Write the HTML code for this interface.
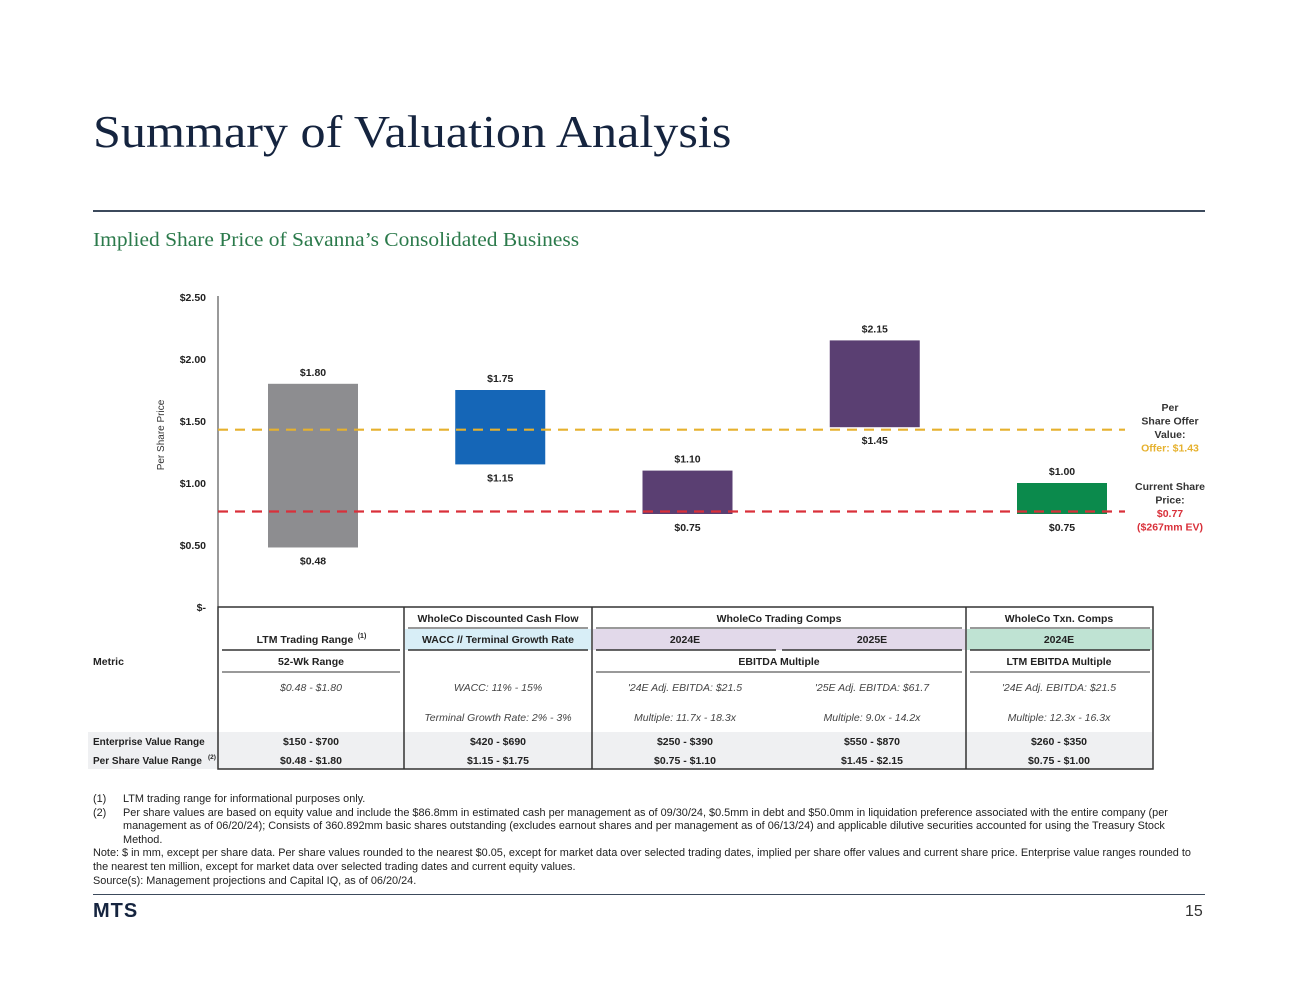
<!DOCTYPE html>
<html><head><meta charset="utf-8">
<style>
body{margin:0;background:#fff;width:1300px;height:1003px;position:relative;overflow:hidden;font-family:"Liberation Sans",sans-serif;color:#1a1a1a}
.abs{position:absolute}
#title{left:93px;top:105px;font-family:"Liberation Serif",serif;font-size:46px;color:#15243f;white-space:nowrap;transform:scaleX(1.09);transform-origin:left top}
#rule1{left:93px;top:210px;width:1112px;height:2px;background:#3c4a5c}
#subtitle{left:93px;top:230px;font-family:"Liberation Serif",serif;font-size:19.5px;color:#2b7a4b;white-space:nowrap;transform:scaleX(1.1);transform-origin:left top}
#notes{left:93px;top:793px;width:1110px;font-size:10.9px;line-height:13.6px;color:#222}
#notes .fn{position:relative;padding-left:30px}
#notes .fn span{position:absolute;left:0}
#rule2{left:93px;top:894px;width:1112px;height:1px;background:#3c4a5c}
#logo{left:93px;top:900px;font-size:20px;font-weight:bold;color:#15243f;letter-spacing:1px}
#page{left:1185px;top:903px;font-size:16px;color:#333}
svg text{font-family:"Liberation Sans",sans-serif}
</style></head><body>
<div id="title" class="abs">Summary of Valuation Analysis</div>
<div id="rule1" class="abs"></div>
<div id="subtitle" class="abs">Implied Share Price of Savanna’s Consolidated Business</div>

<svg id="chart" class="abs" style="left:0;top:0" width="1300" height="790"></svg>

<div id="notes" class="abs">
<div class="fn"><span>(1)</span>LTM trading range for informational purposes only.</div>
<div class="fn"><span>(2)</span>Per share values are based on equity value and include the $86.8mm in estimated cash per management as of 09/30/24, $0.5mm in debt and $50.0mm in liquidation preference associated with the entire company (per management as of 06/20/24); Consists of 360.892mm basic shares outstanding (excludes earnout shares and per management as of 06/13/24) and applicable dilutive securities accounted for using the Treasury Stock Method.</div>
<div>Note: $ in mm, except per share data. Per share values rounded to the nearest $0.05, except for market data over selected trading dates, implied per share offer values and current share price. Enterprise value ranges rounded to the nearest ten million, except for market data over selected trading dates and current equity values.</div>
<div>Source(s): Management projections and Capital IQ, as of 06/20/24.</div>
</div>
<div id="rule2" class="abs"></div>
<div id="logo" class="abs">MTS</div>
<div id="page" class="abs">15</div>

<script>
const categories=["LTM Trading Range","WholeCo DCF","Trading Comps 2024E","Trading Comps 2025E","Txn Comps 2024E"];
const lowValues=[0.48,1.15,0.75,1.45,0.75];
const highValues=[1.80,1.75,1.10,2.15,1.00];
const barColors=["#8d8d90","#1566b7","#5a3f72","#5a3f72","#0b8a4c"];
const yTicks=[0,0.5,1.0,1.5,2.0,2.5];
const yTickLabels=["$-","$0.50","$1.00","$1.50","$2.00","$2.50"];
const offerValue=1.43;
const currentValue=0.77;

const NS="http://www.w3.org/2000/svg";
const svg=document.getElementById('chart');
function y(v){return 607-v*124;}
function x(i){return 313+i*187.25;}
function el(tag,attrs,text){const e=document.createElementNS(NS,tag);for(const k in attrs)e.setAttribute(k,attrs[k]);if(text!==undefined)e.textContent=text;svg.appendChild(e);return e;}

let ax=el('line',{x1:218,y1:296,x2:218,y2:607,stroke:'#333','stroke-width':1});


yTicks.forEach((t,i)=>{
  const tl=el('text',{x:206,y:y(t)+4,'text-anchor':'end','font-size':10.5,'font-weight':'bold',fill:'#222'},yTickLabels[i]);
  
  
});
let yt=el('text',{x:164,y:435,'text-anchor':'middle','font-size':10,fill:'#333',transform:'rotate(-90 164 435)'},'Per Share Price');



categories.forEach((c,i)=>{
  const r=el('rect',{x:x(i)-45,y:y(highValues[i]),width:90,height:y(lowValues[i])-y(highValues[i]),fill:barColors[i]});
  
  
  const t1=el('text',{x:x(i),y:y(highValues[i])-8,'text-anchor':'middle','font-size':10.5,'font-weight':'bold',fill:'#222'},'$'+highValues[i].toFixed(2));
  
  
  const t2=el('text',{x:x(i),y:y(lowValues[i])+17,'text-anchor':'middle','font-size':10.5,'font-weight':'bold',fill:'#222'},'$'+lowValues[i].toFixed(2));
  
  
});

let ol=el('line',{x1:218,y1:y(offerValue),x2:1125,y2:y(offerValue),stroke:'#e6b12e','stroke-width':2.2,'stroke-dasharray':'10,7'});


let cl=el('line',{x1:218,y1:y(currentValue),x2:1125,y2:y(currentValue),stroke:'#d9303a','stroke-width':2.2,'stroke-dasharray':'10,7'});



function ann(lines,yy,name){const g=document.createElementNS(NS,'g');svg.appendChild(g);
 lines.forEach((l,k)=>{const t=document.createElementNS(NS,'text');t.setAttribute('x',1170);t.setAttribute('y',yy+k*13.5);t.setAttribute('text-anchor','middle');t.setAttribute('font-size',10.5);t.setAttribute('font-weight','bold');t.setAttribute('fill',l[1]);t.textContent=l[0];g.appendChild(t);});}
ann([["Per","#333"],["Share Offer","#333"],["Value:","#333"],["Offer: $"+offerValue.toFixed(2),"#e6b12e"]],411,'offer-annotation');
ann([["Current Share","#333"],["Price:","#333"],["$"+currentValue.toFixed(2),"#d9303a"],["($267mm EV)","#d9303a"]],490,'current-price-annotation');

function rect(a,name){const r=el('rect',a);}
rect({x:405,y:629,width:186,height:21,fill:'#d8eef7'},'dcf-header-fill');
rect({x:593,y:629,width:372,height:21,fill:'#e2d9ea'},'trading-header-fill');
rect({x:967,y:629,width:185,height:21,fill:'#bfe3d3'},'txn-header-fill');
rect({x:88,y:732,width:1064,height:37,fill:'#eff0f2'},'value-rows-fill');
rect({x:218,y:607,width:935,height:162,fill:'none',stroke:'#333','stroke-width':1.5},'table-border');
[404,592,966].forEach(cx=>{const l=el('line',{x1:cx,y1:607,x2:cx,y2:769,stroke:'#333','stroke-width':1.5});});
function hl(x1,x2,yy,w){const l=el('line',{x1:x1,y1:yy,x2:x2,y2:yy,stroke:'#333','stroke-width':w||1});}
hl(408,588,628);hl(596,962,628);hl(970,1150,628);
hl(222,400,650,1.5);hl(408,588,650,1.5);hl(596,776,650,1.5);hl(782,962,650,1.5);hl(970,1150,650,1.5);
hl(222,400,672);hl(596,962,672);hl(970,1150,672);
function tx(t,xx,yy,o){const a=Object.assign({x:xx,y:yy,'text-anchor':'middle','font-size':10.5,fill:'#222'},o||{});const e=el('text',a,t);return e;}
const B={'font-weight':'bold'},I={'font-style':'italic',fill:'#444'};
tx('WholeCo Discounted Cash Flow',498,622,B);tx('WholeCo Trading Comps',779,622,B);tx('WholeCo Txn. Comps',1059,622,B);
tx('LTM Trading Range',305,643,B);
tx('(1)',362,638,{'font-size':7,'font-weight':'bold'});
tx('WACC // Terminal Growth Rate',498,643,B);tx('2024E',685,643,B);tx('2025E',872,643,B);tx('2024E',1059,643,B);
tx('Metric',93,665,Object.assign({'text-anchor':'start'},B));
tx('52-Wk Range',311,665,B);tx('EBITDA Multiple',779,665,B);tx('LTM EBITDA Multiple',1059,665,B);
tx('$0.48 - $1.80',311,691,I);tx('WACC: 11% - 15%',498,691,I);tx("'24E Adj. EBITDA: $21.5",685,691,I);tx("'25E Adj. EBITDA: $61.7",872,691,I);tx("'24E Adj. EBITDA: $21.5",1059,691,I);
tx('Terminal Growth Rate: 2% - 3%',498,721,I);tx('Multiple: 11.7x - 18.3x',685,721,I);tx('Multiple:  9.0x - 14.2x',872,721,I);tx('Multiple: 12.3x - 16.3x',1059,721,I);
tx('Enterprise Value Range',93,745,Object.assign({'text-anchor':'start','font-size':10},B));
tx('Per Share Value Range',93,764,Object.assign({'text-anchor':'start','font-size':10},B));
tx('(2)',212,759,{'font-size':6.5,'font-weight':'bold'});
const evR=['$150 - $700','$420 - $690','$250 - $390','$550 - $870','$260 - $350'];
const cx=[311,498,685,872,1059];
evR.forEach((t,i)=>tx(t,cx[i],745,B));
categories.forEach((c,i)=>tx('$'+lowValues[i].toFixed(2)+' - $'+highValues[i].toFixed(2),cx[i],764,B));
</script>
</body></html>
